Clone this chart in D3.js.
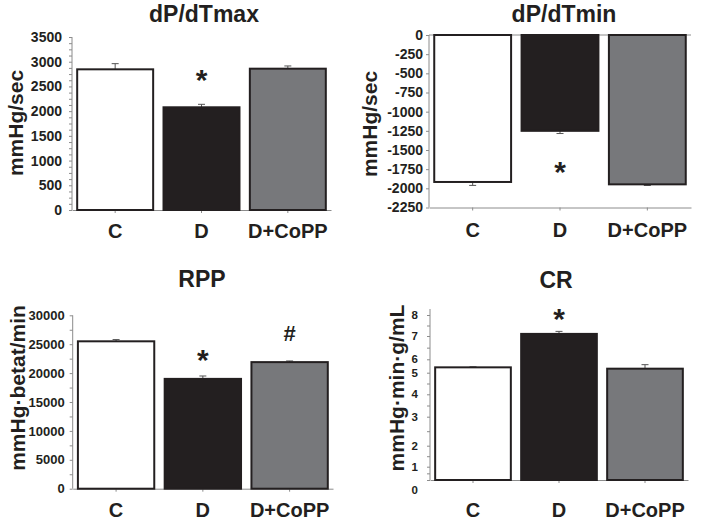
<!DOCTYPE html>
<html lang="en">
<head>
<meta charset="UTF-8">
<title>dP/dT, RPP, CR</title>
<script src="https://cdn.jsdelivr.net/npm/d3@7/dist/d3.min.js"></script>
<style>
    * {
        margin: 0;
        padding: 0;
    }
    body { background: #fff; }
    svg { display: block; font-family: "Liberation Sans", Arial, sans-serif; font-weight: bold; }
</style>
</head>
<body>
<svg></svg>
<script>
    // groups
    const categories = ['C', 'D', 'D+CoPP']
    const barColors = ['#ffffff', '#231f20', '#77787b']

    // dP/dTmax
    const dpMax = [2846, 2078, 2859]
    const dpMaxErr = [115, 60, 55]
    const dpMaxTicks = [0, 500, 1000, 1500, 2000, 2500, 3000, 3500]
    const dpMaxMinor = [125, 250, 375, 625, 750, 875, 1125, 1250, 1375, 1625, 1750, 1875, 2125, 2250, 2375, 2625, 2750, 2875, 3125, 3250, 3375]

    // dP/dTmin
    const dpMin = [-1917, -1250, -1948]
    const dpMinErr = [45, 35, 15]
    const dpMinTicks = [0, -250, -500, -750, -1000, -1250, -1500, -1750, -2000, -2250]

    // RPP
    const rpp = [25500, 19000, 21900]
    const rppErr = [300, 500, 200]
    const rppTicks = [0, 5000, 10000, 15000, 20000, 25000, 30000]
    const rppMinor = [2500, 7500, 12500, 17500, 22500, 27500]

    // CR
    const cr = [5.4, 7.1, 5.3]
    const crErr = [0.04, 0.12, 0.3]
    const crTicks = [0, 1, 2, 3, 4, 5, 6, 7, 8]
    const crMinor = [0.5, 1.5, 2.5, 3.5, 4.5, 6.5, 7.5]

    const svg = d3.select('svg').attr('width', 709).attr('height', 524)

    const axisColor = '#8c8c8c'
    const ink = '#231f20'

    // 四个小图的布局
    const panels = [
        {
            title: 'dP/dTmax', unit: 'mmHg/sec', values: dpMax, err: dpMaxErr, ticks: dpMaxTicks, minor: dpMaxMinor,
            marks: [{ i: 1, text: '*', at: 2650, size: 30 }],
            x: [72, 331], y: d3.scaleLinear().domain([0, 3500]).range([210, 37]), tickFont: 14,
            titleX: 204, titleY: 22, catY: 238, unitX: 15, unitY: 123, gap: 10
        },
        {
            title: 'dP/dTmin', unit: 'mmHg/sec', values: dpMin, err: dpMinErr, ticks: dpMinTicks, minor: [],
            marks: [{ i: 1, text: '*', at: -1783, size: 30 }],
            x: [429, 691], y: d3.scaleLinear().domain([-2250, 0]).range([207.5, 35]), tickFont: 14,
            titleX: 564, titleY: 22, catY: 237, unitX: 369, unitY: 124, gap: 6, negative: true
        },
        {
            title: 'RPP', unit: 'mmHg\u00b7betat/min', values: rpp, err: rppErr, ticks: rppTicks, minor: rppMinor,
            marks: [{ i: 1, text: '*', at: 22300, size: 30 }, { i: 2, text: '#', at: 26800, size: 22 }],
            x: [72.7, 333], y: d3.scaleLinear().domain([0, 30000]).range([488.7, 315.3]), tickFont: 13,
            titleX: 202, titleY: 287, catY: 517, unitX: 17, unitY: 388, gap: 8
        },
        {
            title: 'CR', unit: 'mmHg\u00b7min\u00b7g/mL', values: cr, err: crErr, ticks: crTicks, minor: crMinor,
            marks: [{ i: 1, text: '*', at: 7.82, size: 30 }],
            // 原图的刻度间距不均匀
            x: [430, 688], y: d3.scaleLinear().domain(crTicks).range([480, 466.7, 445.7, 416.7, 394.3, 372.7, 359.3, 336, 315]),
            axisTop: 309, zeroShift: 10, tickFont: 11.5,
            titleX: 556, titleY: 288, catY: 517, unitX: 396, unitY: 388, gap: 12
        }
    ]

    panels.forEach(function (p) {
        const g = svg.append('g')
        const y = p.y
        const x = d3.scaleBand().domain(categories).range(p.x).paddingInner(0.12).paddingOuter(0.06)

        // 标题
        g.append('text').attr('x', p.titleX).attr('y', p.titleY)
            .attr('text-anchor', 'middle').attr('font-size', 23).attr('fill', ink).text(p.title)

        // y轴标题
        g.append('text')
            .attr('transform', 'translate(' + p.unitX + ',' + p.unitY + ') rotate(-90)')
            .attr('text-anchor', 'middle').attr('dominant-baseline', 'central')
            .attr('font-size', 21).attr('fill', ink).text(p.unit)

        // y轴 (主刻度 + 小刻度)
        const yAxis = d3.axisLeft(y).tickValues(p.ticks.concat(p.minor)).tickSize(3).tickSizeOuter(0)
            .tickPadding(p.gap - 3)
            .tickFormat(d => p.ticks.indexOf(d) >= 0 ? String(d) : '')
        const ya = g.append('g').attr('transform', 'translate(' + p.x[0] + ',0)').call(yAxis)
        ya.select('.domain').remove()
        const yTop = p.axisTop !== undefined ? p.axisTop : d3.min(p.ticks.map(y))
        const yBot = d3.max(p.ticks.map(y))
        ya.append('line').attr('y1', yTop).attr('y2', yBot).attr('stroke', axisColor)
        ya.selectAll('.tick line').attr('stroke', axisColor)
        ya.selectAll('.tick text').attr('font-size', p.tickFont).attr('fill', ink)
            .attr('font-family', '"Liberation Sans", Arial, sans-serif').attr('font-weight', 'bold')
        if (p.zeroShift) {
            ya.selectAll('.tick').filter(d => d === 0).select('text').attr('dy', (0.32 * p.tickFont + p.zeroShift) + 'px')
        }

        // x轴
        const baseY = p.negative ? y(d3.min(p.ticks)) : y(0)
        const xa = g.append('g').attr('transform', 'translate(0,' + baseY + ')')
            .call(d3.axisBottom(x).tickSize(3).tickSizeOuter(0).tickFormat(''))
        xa.select('.domain').attr('stroke', axisColor)
        xa.selectAll('.tick line').attr('stroke', axisColor)
        if (p.negative) {
            g.append('line').attr('x1', p.x[0]).attr('x2', p.x[1])
                .attr('y1', y(0)).attr('y2', y(0)).attr('stroke', axisColor)
        }

        // 误差线
        g.selectAll('.err').data(p.values).enter().append('g').each(function (v, i) {
            const cx = x(categories[i]) + x.bandwidth() / 2
            const e = v < 0 ? v - p.err[i] : v + p.err[i]
            const s = d3.select(this)
            s.append('line').attr('x1', cx).attr('x2', cx).attr('y1', y(v)).attr('y2', y(e))
                .attr('stroke', '#555').attr('stroke-width', 1)
            s.append('line').attr('x1', cx - 3.5).attr('x2', cx + 3.5).attr('y1', y(e)).attr('y2', y(e))
                .attr('stroke', '#555').attr('stroke-width', 1)
        })

        // 柱子
        g.selectAll('.bar').data(p.values).enter().append('rect')
            .attr('x', (d, i) => x(categories[i]))
            .attr('width', x.bandwidth())
            .attr('y', d => Math.min(y(0), y(d)))
            .attr('height', d => Math.abs(y(d) - y(0)))
            .attr('fill', (d, i) => barColors[i])
            .attr('stroke', ink).attr('stroke-width', 2)

        // 组名
        g.selectAll('.cat').data(categories).enter().append('text')
            .attr('x', d => x(d) + x.bandwidth() / 2).attr('y', p.catY)
            .attr('text-anchor', 'middle').attr('font-size', 20).attr('fill', ink).text(d => d)

        // 显著性标记, 按包围盒居中
        p.marks.forEach(function (m) {
            const cx = x(categories[m.i]) + x.bandwidth() / 2
            const t = g.append('text').attr('x', cx).attr('y', 0)
                .attr('text-anchor', 'middle').attr('font-size', m.size).attr('fill', ink).text(m.text)
            const b = t.node().getBBox()
            t.attr('y', y(m.at) - (b.y + b.height / 2))
        })
    })
</script>
</body>
</html>
